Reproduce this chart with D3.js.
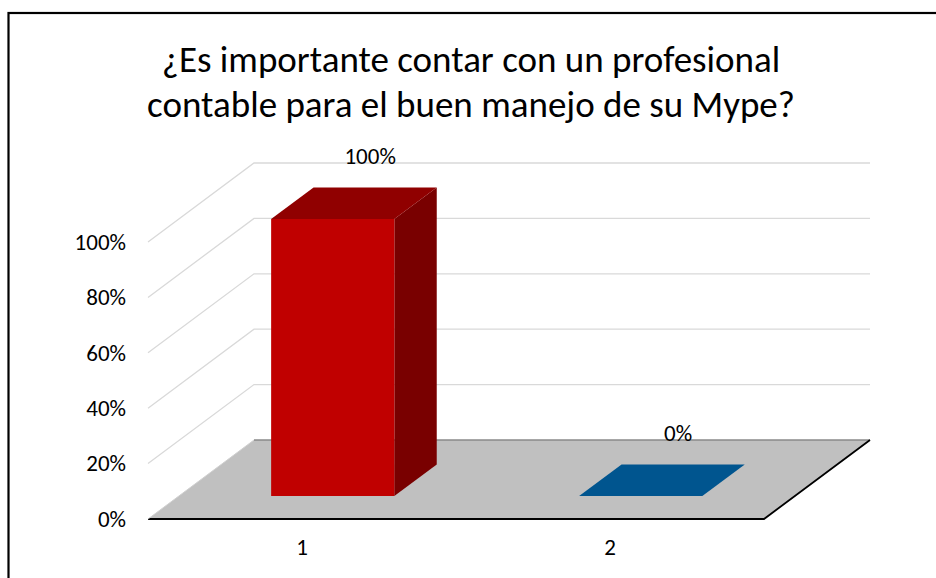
<!DOCTYPE html>
<head>
  <meta charset="utf-8">
  <title>mype</title>
  <style>
    body { margin: 0; background: #fff; }
    text { font-family: Carlito, Calibri, Lato, sans-serif; fill: #000; }
  </style>
</head>
<script src="https://d3js.org/d3.v7.min.js"></script>
<div id="chart"></div>
<script>
  // data
  const categories = ["1", "2"];
  const values = [1.0, 0.0];
  const tickValues = [0, 0.2, 0.4, 0.6, 0.8, 1.0];
  const titleLines = ["¿Es importante contar con un profesional", "contable para el buen manejo de su Mype?"];

  const W = 936, H = 578;
  const svg = d3.select("#chart").append("svg")
    .attr("width", W).attr("height", H);

  // chart border
  svg.append("rect")
    .attr("x", 8.5).attr("y", 13).attr("width", 940).attr("height", 600)
    .attr("fill", "#fff").attr("stroke", "#000").attr("stroke-width", 2.2);

  // title
  svg.append("g").selectAll("text")
    .data(titleLines)
    .join("text")
      .attr("x", 471)
      .attr("y", (d, i) => 72 + i * 45)
      .attr("text-anchor", "middle")
      .attr("font-size", 37)
      .text(d => d);

  // back wall scales; depth goes from back (0) to front (1)
  const x = d3.scaleBand().domain(categories).range([254, 870]);
  const y = d3.scaleLinear().domain([0, 1]).range([440, 163]);
  const depth = {dx: -106, dy: 79};
  const proj = (px, v, z) => [px + depth.dx * z, y(v) + depth.dy * z];

  // wall gridlines
  const [x0, x1] = x.range();
  const grid = svg.append("g").attr("stroke", "#d9d9d9").attr("stroke-width", 1.3).attr("fill", "none");
  tickValues.filter(v => v > 0).forEach(v => {
    grid.append("path").attr("d", d3.line()([proj(x0, v, 1), proj(x0, v, 0), proj(x1, v, 0)]));
  });

  // floor
  svg.append("path")
    .attr("d", d3.line()([proj(x0, 0, 0), proj(x1, 0, 0), proj(x1, 0, 1), proj(x0, 0, 1)]) + "Z")
    .attr("fill", "#c0c0c0").attr("stroke", "none");
  svg.append("path").attr("d", d3.line()([proj(x0, 0, 0), proj(x1, 0, 0)]))
    .attr("stroke", "#8a8a8a").attr("stroke-width", 1.5);
  svg.append("path").attr("d", d3.line()([proj(x0, 0, 1), proj(x1, 0, 1), proj(x1, 0, 0)]))
    .attr("stroke", "#000").attr("stroke-width", 1.8).attr("fill", "none");
  svg.append("path").attr("d", d3.line()([proj(x0, 0, 1), proj(x0, 0, 0)]))
    .attr("stroke", "#d0d0d0").attr("stroke-width", 1);

  // bars
  const colors = ["#c00000", "#00558f"];
  const zFront = 0.71, zBack = 0.31;
  const barW = x.bandwidth() * 0.4;
  const bars = svg.append("g");
  categories.forEach((c, i) => {
    const l = x(c) + (x.bandwidth() - barW) / 2, r = l + barW, v = values[i];
    const base = d3.color(colors[i]);
    const g = bars.append("g");
    if (v > 0) {
      // side
      g.append("path").attr("d", d3.line()([proj(r, 0, zFront), proj(r, 0, zBack), proj(r, v, zBack), proj(r, v, zFront)]) + "Z")
        .attr("fill", base.darker(1.3));
      // front
      g.append("path").attr("d", d3.line()([proj(l, 0, zFront), proj(r, 0, zFront), proj(r, v, zFront), proj(l, v, zFront)]) + "Z")
        .attr("fill", base);
    }
    // top
    g.append("path").attr("d", d3.line()([proj(l, v, zFront), proj(r, v, zFront), proj(r, v, zBack), proj(l, v, zBack)]) + "Z")
      .attr("fill", v > 0 ? base.darker(0.8) : base);

    // data label
    const p = proj(x(c) + x.bandwidth() / 2, v, zBack);
    svg.append("text")
      .attr("x", p[0] - 5)
      .attr("y", p[1] - 23)
      .attr("text-anchor", "middle")
      .attr("font-size", 23)
      .text(d3.format(".0%")(v));
  });

  // axes on the front edge
  const yFront = y.copy().range(y.range().map(d => d + depth.dy));
  svg.append("g")
    .attr("transform", `translate(${x0 + depth.dx},0)`)
    .call(d3.axisLeft(yFront).tickValues(tickValues).tickFormat(d3.format(".0%")).tickSize(0).tickPadding(22))
    .call(g => g.select(".domain").remove())
    .call(g => g.attr("font-size", 23).attr("font-family", null))
    .selectAll("text").attr("fill", null);

  const xFront = x.copy().range(x.range().map(d => d + depth.dx));
  svg.append("g")
    .attr("transform", `translate(0,${y(0) + depth.dy})`)
    .call(d3.axisBottom(xFront).tickSize(0).tickPadding(20))
    .call(g => g.select(".domain").remove())
    .call(g => g.attr("font-size", 23).attr("font-family", null))
    .selectAll("text").attr("fill", null);
</script>
